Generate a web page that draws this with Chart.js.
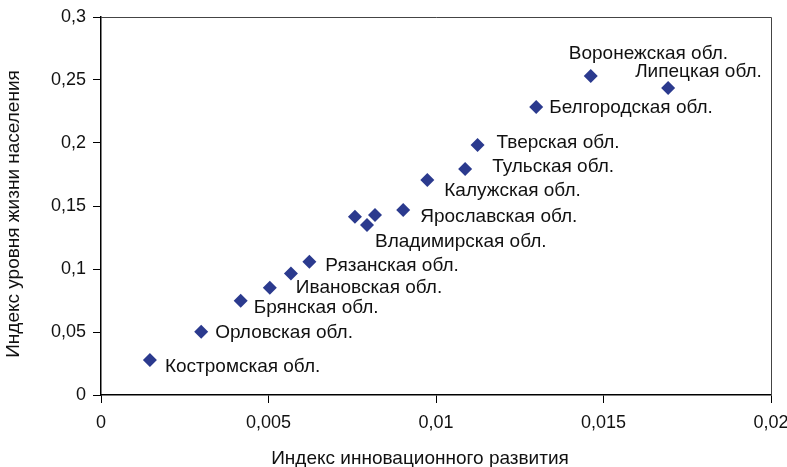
<!DOCTYPE html>
<html>
<head>
<meta charset="utf-8">
<script src="https://cdn.jsdelivr.net/npm/chart.js@4/dist/chart.umd.min.js"></script>
<style>
  html, body { margin: 0; padding: 0; background: #fff; }
  #wrap { width: 787px; height: 467px; }
</style>
</head>
<body>
<div id="wrap"><canvas id="chart" width="787" height="467"></canvas></div>
<script>
// Данные: индекс инновационного развития (x) и индекс уровня жизни (y)
const regionNames = [
  'Костромская обл.', 'Орловская обл.', 'Брянская обл.', 'Ивановская обл.', '',
  'Рязанская обл.', '', 'Владимирская обл.', '', 'Ярославская обл.',
  'Калужская обл.', 'Тульская обл.', 'Тверская обл.', 'Белгородская обл.',
  'Воронежская обл.', 'Липецкая обл.'
];
const innovationIndex = [
  0.00146, 0.00299, 0.00417, 0.00504, 0.00567,
  0.00622, 0.00758, 0.00794, 0.00818, 0.00902,
  0.00974, 0.01087, 0.01124, 0.01299,
  0.01462, 0.01693
];
const livingIndex = [
  0.0278, 0.0502, 0.0749, 0.0851, 0.0965,
  0.1058, 0.1415, 0.1349, 0.1429, 0.1468,
  0.1706, 0.1794, 0.1984, 0.2286,
  0.2532, 0.2437
];
const xTicks = [0, 0.005, 0.01, 0.015, 0.02];
const yTicks = [0, 0.05, 0.1, 0.15, 0.2, 0.25, 0.3];
const xTitle = 'Индекс инновационного развития';
const yTitle = 'Индекс уровня жизни населения';

// смещения подписей относительно точек (px)
const labelOffsets = [
  [15, 7], [14, 1], [13, 7], [26, 0], [0, 0],
  [16, 4], [0, 0], [8, 17], [0, 0], [17, 7],
  [17, 11], [27, -2], [19, -2], [13, 1],
  [-22, -22], [-33, -16]
];

const points = innovationIndex.map((x, i) => ({ x: x, y: livingIndex[i] }));
const fmt = v => String(Number(v.toFixed(4))).replace('.', ',');
const FONT = '"Liberation Sans", Arial, Helvetica, sans-serif';

const labelPlugin = {
  id: 'pointLabels',
  afterDatasetsDraw(chart) {
    const ctx = chart.ctx;
    const meta = chart.getDatasetMeta(0);
    ctx.save();
    ctx.font = '19px ' + FONT;
    ctx.fillStyle = '#111';
    ctx.textAlign = 'left';
    ctx.textBaseline = 'middle';
    meta.data.forEach((el, i) => {
      if (!regionNames[i]) return;
      ctx.fillText(regionNames[i], el.x + labelOffsets[i][0], el.y + labelOffsets[i][1]);
    });
    // подписи осей (в оригинале сдвинуты относительно центра области)
    ctx.textAlign = 'center';
    ctx.fillText(xTitle, 420, 459);
    ctx.translate(14, 214);
    ctx.rotate(-Math.PI / 2);
    ctx.fillText(yTitle, 0, 0);
    ctx.restore();
  }
};

const framePlugin = {
  id: 'frame',
  beforeDatasetsDraw(chart) {
    const a = chart.chartArea;
    const ctx = chart.ctx;
    ctx.save();
    ctx.strokeStyle = '#444';
    ctx.lineWidth = 1;
    ctx.beginPath();
    ctx.moveTo(a.left, a.top + 0.5);
    ctx.lineTo(a.right + 0.5, a.top + 0.5);
    ctx.lineTo(a.right + 0.5, a.bottom);
    ctx.stroke();
    ctx.restore();
  }
};

new Chart(document.getElementById('chart'), {
  type: 'scatter',
  data: {
    datasets: [{
      data: points,
      pointStyle: 'rectRot',
      pointRadius: 7,
      pointHoverRadius: 7,
      backgroundColor: '#2b3a8e',
      borderColor: '#2b3a8e',
      borderWidth: 0
    }]
  },
  plugins: [labelPlugin, framePlugin],
  options: {
    responsive: false,
    animation: false,
    devicePixelRatio: 1,
    layout: { padding: { top: 17, right: 16, left: 0, bottom: 0 } },
    plugins: { legend: { display: false }, tooltip: { enabled: false } },
    scales: {
      x: {
        type: 'linear',
        min: 0, max: 0.02,
        afterBuildTicks: s => { s.ticks = xTicks.map(v => ({ value: v })); },
        afterFit: s => { s.height = 72; s.paddingLeft = 0; s.paddingRight = 0; },
        border: { display: true, color: '#000', width: 1.5 },
        grid: { drawOnChartArea: false, drawTicks: true, tickLength: 8, color: '#000', tickWidth: 1 },
        ticks: {
          color: '#111', padding: 9, maxRotation: 0,
          font: { family: FONT, size: 18 },
          callback: v => fmt(v)
        },
        title: { display: false }
      },
      y: {
        type: 'linear',
        min: 0, max: 0.3,
        afterBuildTicks: s => { s.ticks = yTicks.map(v => ({ value: v })); },
        afterFit: s => { s.width = 101; s.paddingTop = 0; s.paddingBottom = 0; },
        border: { display: true, color: '#000', width: 1.5 },
        grid: { drawOnChartArea: false, drawTicks: true, tickLength: 8, color: '#000', tickWidth: 1 },
        ticks: {
          color: '#111', padding: 7,
          font: { family: FONT, size: 18 },
          callback: v => fmt(v)
        },
        title: { display: false }
      }
    }
  }
});
</script>
</body>
</html>
